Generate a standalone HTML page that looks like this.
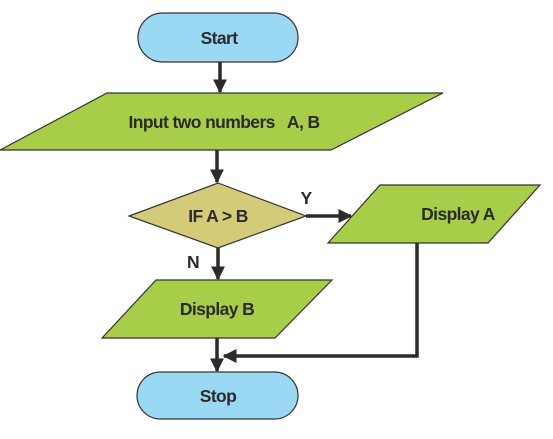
<!DOCTYPE html>
<html><head><style>body{margin:0;background:#fff}svg{display:block}text{font-family:"Liberation Sans",sans-serif;font-weight:bold;fill:#2b2b2b;font-size:17.5px;letter-spacing:-0.6px;text-anchor:middle}</style></head>
<body>
<svg width="553" height="439" viewBox="0 0 553 439">
<defs><marker id="a" markerWidth="4" markerHeight="4" refX="3.6" refY="2" orient="auto"><path d="M0,0L4,2L0,4z" fill="#2b2b2b"/></marker></defs>
<g stroke="#333" stroke-width="1.2">
<rect x="138" y="13" width="160" height="49" rx="24.5" fill="#9ad8f4"/>
<polygon points="107,93 443,93 331,150 0,150" fill="#a8cd48"/>
<polygon points="218,183 306,216 218,248 129,216" fill="#d4cb78"/>
<polygon points="380,185 540,185 488,243 328,243" fill="#a8cd48"/>
<polygon points="156,280 332,280 275,338 102,338" fill="#a8cd48"/>
<rect x="137" y="372" width="161" height="47" rx="23.5" fill="#9ad8f4"/>
</g>
<g stroke="#2b2b2b" stroke-width="3.5" fill="none">
<line x1="220" y1="62" x2="220" y2="92" marker-end="url(#a)"/>
<line x1="217" y1="150" x2="217" y2="182" marker-end="url(#a)"/>
<line x1="306" y1="216" x2="351" y2="216" marker-end="url(#a)"/>
<line x1="218" y1="248" x2="218" y2="279" marker-end="url(#a)"/>
<line x1="217" y1="338" x2="217" y2="371" marker-end="url(#a)"/>
<polyline points="417,243 417,356 224,356" marker-end="url(#a)"/>
</g>
<text x="219" y="44">Start</text>
<text x="224" y="128">Input two numbers&#160;&#160; A, B</text>
<text x="218" y="222">IF A &gt; B</text>
<text x="458" y="220">Display A</text>
<text x="217" y="315">Display B</text>
<text x="218" y="402">Stop</text>
<text x="306" y="204">Y</text>
<text x="193" y="268">N</text>
</svg>
</body></html>
